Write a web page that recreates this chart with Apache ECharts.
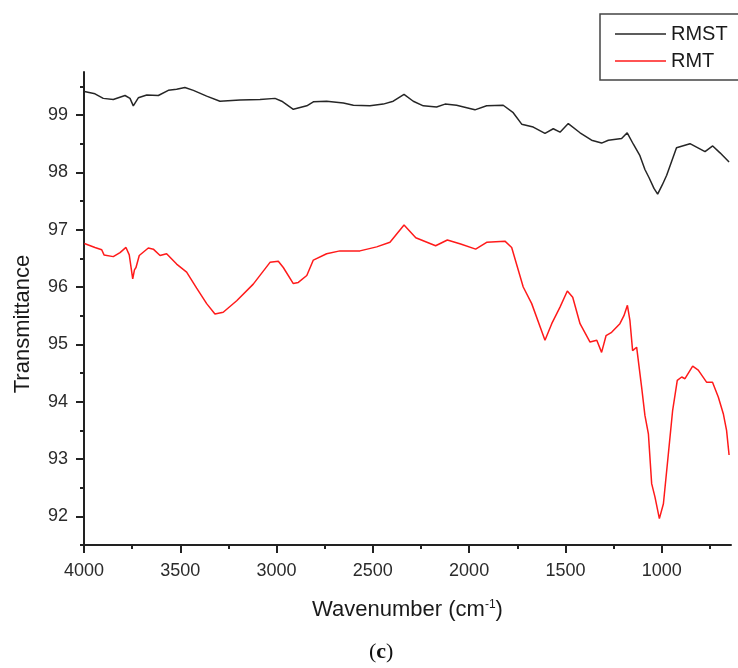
<!DOCTYPE html>
<html>
<head>
<meta charset="utf-8">
<script src="https://cdn.jsdelivr.net/npm/echarts@6/dist/echarts.min.js"></script>
<style>
  html, body { margin: 0; padding: 0; background: #ffffff; }
  #chart { width: 738px; height: 668px; }
</style>
</head>
<body>
<div id="chart"></div>
<script>
// ---- Data ----
const seriesNames = ['RMST', 'RMT'];

const rmstWave = [3998, 3943, 3900, 3848, 3787, 3761, 3744, 3718, 3674, 3614, 3562, 3519, 3476, 3432, 3363, 3294, 3190, 3086, 3008, 2973, 2913, 2843, 2809, 2740, 2653, 2601, 2515, 2446, 2394, 2338, 2290, 2238, 2169, 2125, 2065, 1970, 1909, 1823, 1771, 1727, 1667, 1606, 1563, 1528, 1485, 1424, 1364, 1312, 1277, 1208, 1179, 1147, 1113, 1087, 1066, 1040, 1021, 997, 974, 923, 853, 775, 735, 697, 650];
const rmstValue = [99.41, 99.37, 99.29, 99.27, 99.34, 99.29, 99.16, 99.30, 99.35, 99.34, 99.43, 99.45, 99.48, 99.43, 99.33, 99.24, 99.26, 99.27, 99.29, 99.24, 99.10, 99.16, 99.23, 99.24, 99.21, 99.17, 99.16, 99.19, 99.24, 99.36, 99.24, 99.16, 99.14, 99.19, 99.17, 99.09, 99.16, 99.17, 99.04, 98.84, 98.79, 98.68, 98.76, 98.70, 98.85, 98.69, 98.56, 98.51, 98.56, 98.59, 98.69, 98.49, 98.29, 98.05, 97.91, 97.72, 97.62, 97.78, 97.95, 98.43, 98.50, 98.36, 98.46, 98.34, 98.18];

const rmtWave = [3998, 3943, 3908, 3896, 3848, 3813, 3782, 3765, 3747, 3738, 3730, 3713, 3666, 3640, 3605, 3571, 3519, 3467, 3415, 3363, 3320, 3277, 3207, 3121, 3034, 2991, 2965, 2913, 2887, 2843, 2809, 2740, 2671, 2567, 2480, 2411, 2338, 2277, 2174, 2113, 2044, 1966, 1909, 1814, 1779, 1719, 1675, 1606, 1571, 1528, 1490, 1462, 1424, 1372, 1337, 1312, 1289, 1260, 1217, 1196, 1178, 1165, 1151, 1130, 1104, 1087, 1069, 1052, 1035, 1012, 991, 965, 943, 919, 896, 879, 839, 810, 767, 736, 706, 680, 663, 650];
const rmtValue = [96.76, 96.69, 96.65, 96.56, 96.53, 96.60, 96.69, 96.56, 96.14, 96.30, 96.34, 96.55, 96.68, 96.66, 96.55, 96.58, 96.40, 96.26, 95.98, 95.71, 95.53, 95.56, 95.76, 96.05, 96.43, 96.45, 96.34, 96.06, 96.08, 96.20, 96.47, 96.58, 96.63, 96.63, 96.70, 96.78, 97.08, 96.86, 96.72, 96.82, 96.75, 96.66, 96.78, 96.80, 96.69, 96.00, 95.71, 95.07, 95.36, 95.65, 95.93, 95.82, 95.36, 95.04, 95.07, 94.86, 95.15, 95.21, 95.36, 95.50, 95.68, 95.42, 94.89, 94.95, 94.25, 93.76, 93.44, 92.57, 92.34, 91.96, 92.22, 93.10, 93.85, 94.37, 94.43, 94.40, 94.62, 94.55, 94.34, 94.34, 94.08, 93.79, 93.50, 93.07];

const xTickLabels = [4000, 3500, 3000, 2500, 2000, 1500, 1000];
const xMinorTicks = [3750, 3250, 2750, 2250, 1750, 1250, 750];
const yTickLabels = [92, 93, 94, 95, 96, 97, 98, 99];
const yMinorTicks = [91.5, 92.5, 93.5, 94.5, 95.5, 96.5, 97.5, 98.5, 99.5];

// ---- Chart ----
const pair = (xs, ys) => xs.map((x, i) => [x, ys[i]]);
const FONT = '"Liberation Sans", Arial, sans-serif';
const TXT = '#2b2b2b';

const chart = echarts.init(document.getElementById('chart'), null, { renderer: 'canvas' });

const option = {
  animation: false,
  backgroundColor: '#ffffff',
  grid: { left: 84, right: 7, top: 72, bottom: 123, containLabel: false },
  legend: {
    orient: 'vertical',
    left: 600,
    top: 14,
    padding: [10, 40, 9, 15],
    itemGap: 7,
    itemWidth: 51,
    itemHeight: 1.6,
    icon: 'rect',
    borderColor: '#444',
    borderWidth: 1.5,
    data: seriesNames,
    textStyle: { fontFamily: FONT, fontSize: 20, color: '#1a1a1a', lineHeight: 20 }
  },
  xAxis: [
    {
      type: 'value',
      inverse: true,
      min: 640,
      max: 4000,
      position: 'bottom',
      name: '{a|Wavenumber (cm}{s|-1}{a|)}',
      nameLocation: 'middle',
      nameGap: 54,
      nameTextStyle: {
        rich: {
          a: { fontFamily: FONT, fontSize: 22, color: '#1a1a1a' },
          s: { fontFamily: FONT, fontSize: 12, color: '#1a1a1a', verticalAlign: 'top', padding: [0, 0, 10, 0] }
        }
      },
      axisLine: { show: true, lineStyle: { color: '#222', width: 2 } },
      axisTick: { show: true, inside: false, length: 8, customValues: xTickLabels, lineStyle: { color: '#222', width: 2 } },
      axisLabel: { show: true, customValues: xTickLabels, margin: 17, fontFamily: FONT, fontSize: 18, color: TXT, formatter: v => String(v) },
      splitLine: { show: false }
    },
    {
      type: 'value',
      inverse: true,
      min: 640,
      max: 4000,
      position: 'bottom',
      axisLine: { show: false },
      axisTick: { show: true, inside: false, length: 4, customValues: xMinorTicks, lineStyle: { color: '#222', width: 2 } },
      axisLabel: { show: false },
      splitLine: { show: false }
    }
  ],
  yAxis: [
    {
      type: 'value',
      min: 91.5,
      max: 99.75,
      position: 'left',
      name: 'Transmittance',
      nameLocation: 'middle',
      nameGap: 50,
      nameTextStyle: { fontFamily: FONT, fontSize: 22, color: '#1a1a1a', padding: [0, 31, 0, 0] },
      axisLine: { show: true, lineStyle: { color: '#222', width: 2 } },
      axisTick: { show: true, inside: false, length: 8, customValues: yTickLabels, lineStyle: { color: '#222', width: 2 } },
      axisLabel: { show: true, customValues: yTickLabels, margin: 16, fontFamily: FONT, fontSize: 18, color: TXT, formatter: v => String(v) },
      splitLine: { show: false }
    },
    {
      type: 'value',
      min: 91.5,
      max: 99.75,
      position: 'left',
      axisLine: { show: false },
      axisTick: { show: true, inside: false, length: 4, customValues: yMinorTicks, lineStyle: { color: '#222', width: 2 } },
      axisLabel: { show: false },
      splitLine: { show: false }
    }
  ],
  series: [
    {
      name: seriesNames[0],
      type: 'line',
      xAxisIndex: 0,
      yAxisIndex: 0,
      symbol: 'none',
      smooth: false,
      lineStyle: { color: '#262626', width: 1.5 },
      itemStyle: { color: '#262626' },
      data: pair(rmstWave, rmstValue)
    },
    {
      name: seriesNames[1],
      type: 'line',
      xAxisIndex: 0,
      yAxisIndex: 0,
      symbol: 'none',
      smooth: false,
      lineStyle: { color: '#ff1a1a', width: 1.5 },
      itemStyle: { color: '#ff1a1a' },
      data: pair(rmtWave, rmtValue)
    }
  ],
  graphic: [
    {
      type: 'text',
      left: 369,
      top: 641,
      style: {
        text: '{p|(}{c|c}{p|)}',
        rich: {
          p: { fontFamily: '"Liberation Serif", "DejaVu Serif", serif', fontSize: 22, fill: '#111' },
          c: { fontFamily: '"Liberation Serif", "DejaVu Serif", serif', fontSize: 22, fontWeight: 'bold', fill: '#111' }
        }
      }
    }
  ]
};

chart.setOption(option);
</script>
</body>
</html>
